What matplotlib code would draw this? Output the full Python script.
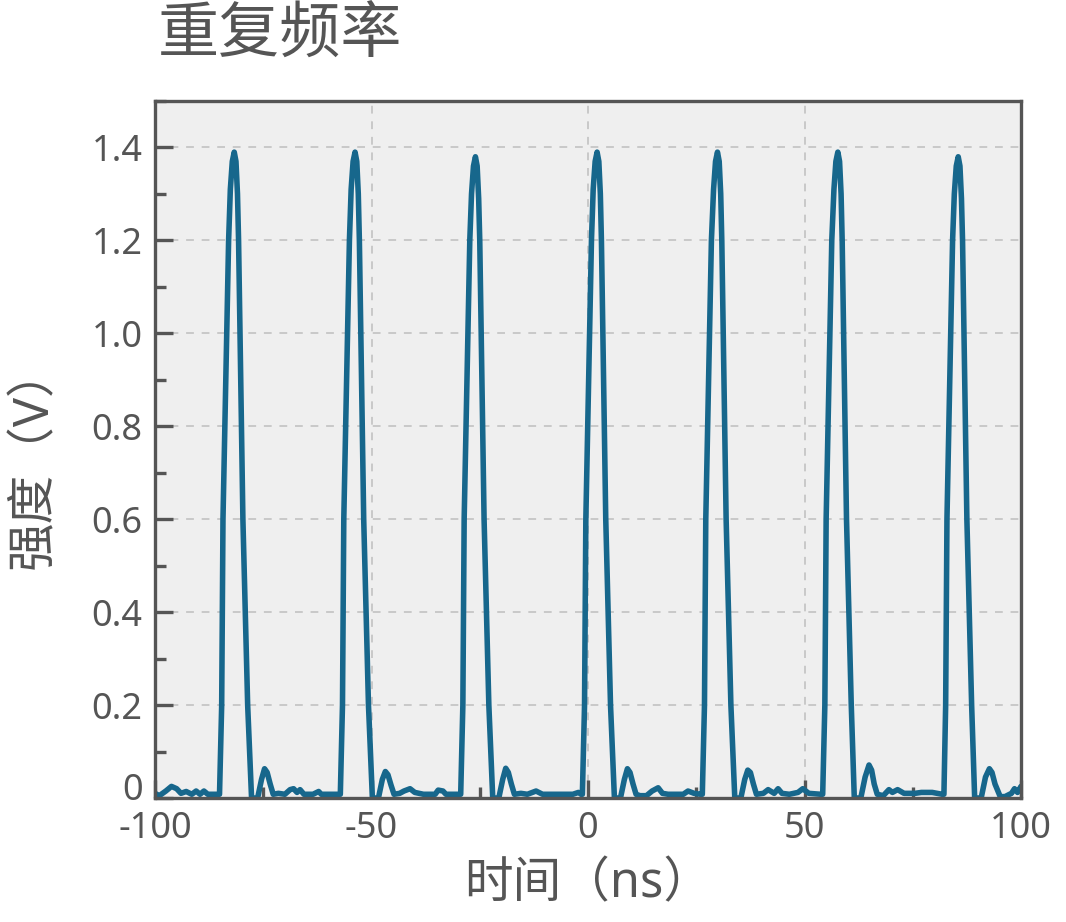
import matplotlib
matplotlib.use("Agg")
import matplotlib.pyplot as plt
from matplotlib.ticker import MultipleLocator, FuncFormatter
from matplotlib.transforms import ScaledTranslation

plt.rcParams['font.family'] = ['Noto Sans', 'Noto Sans CJK SC', 'DejaVu Sans']

# ---- data: oscilloscope trace (time in ns, voltage in V)
time_ns = [
    -100.0, -99.0, -97.5, -96.2, -95.0, -94.0, -92.8, -91.5, -90.5, -89.6, -88.7, -87.8, -85.5,
    # pulse 1
    -85.1, -84.6, -84.3, -83.0, -82.6, -82.15, -81.7, -81.3, -80.95, -80.7, -79.7, -78.6, -77.7, -76.3,
    -75.4, -74.7, -74.1, -73.4, -72.7,
    -71.5, -70.0, -68.8, -68.0, -67.2, -66.5, -65.6, -63.5, -62.2, -61.6, -57.6,
    # pulse 2
    -57.2, -56.7, -56.4, -55.1, -54.7, -54.25, -53.8, -53.4, -53.05, -52.8, -51.8, -50.7, -49.8, -48.4,
    -47.5, -46.8, -46.2, -45.5, -44.8,
    -43.5, -42.5, -41.1, -40.0, -38.0, -35.3, -34.6, -33.5, -32.8, -29.7,
    # pulse 3
    -29.4, -28.9, -28.6, -27.3, -26.9, -26.45, -26.0, -25.6, -25.25, -25.0, -24.0, -22.9, -22.0, -20.6,
    -19.7, -19.0, -18.4, -17.7, -17.0,
    -15.5, -14.0, -12.0, -10.5, -8.0, -6.0, -3.5, -2.2, -1.6,
    # pulse 4
    -1.3, -0.8, -0.5, 0.8, 1.2, 1.65, 2.1, 2.5, 2.85, 3.1, 4.1, 5.2, 6.1, 7.5,
    8.4, 9.1, 9.7, 10.4, 11.1,
    12.0, 13.5, 14.8, 16.2, 17.2, 18.5, 22.0, 23.1, 24.5, 26.0,
    # pulse 5
    26.4, 26.9, 27.2, 28.5, 29.0, 29.45, 29.9, 30.3, 30.65, 30.9, 31.9, 33.0, 33.9, 35.3,
    36.2, 36.9, 37.5, 38.2, 38.9,
    40.5, 41.6, 43.0, 43.9, 44.8, 46.5, 48.5, 49.6, 51.0, 53.8,
    # pulse 6
    54.2, 54.7, 55.0, 56.3, 56.8, 57.25, 57.7, 58.1, 58.45, 58.7, 59.7, 60.8, 61.5, 63.0,
    64.0, 64.9, 65.5, 66.1, 66.8,
    68.2, 69.5, 70.3, 71.5, 73.0, 75.5, 77.0, 79.5, 81.8,
    # pulse 7
    82.2, 82.6, 82.9, 84.2, 84.6, 85.05, 85.5, 85.9, 86.25, 86.5, 87.5, 88.6, 89.3, 90.8,
    91.8, 92.7, 93.3, 94.0, 95.2,
    96.3, 97.8, 98.5, 99.2, 100.0,
]
voltage_v = [
    0.010, 0.005, 0.015, 0.025, 0.020, 0.010, 0.014, 0.008, 0.015, 0.008, 0.015, 0.008, 0.008,
    # pulse 1
    0.008, 0.20, 0.60, 1.20, 1.31, 1.37, 1.39, 1.37, 1.30, 1.20, 0.60, 0.20, 0.000, 0.000,
    0.040, 0.063, 0.055, 0.030, 0.008,
    0.010, 0.008, 0.018, 0.020, 0.012, 0.018, 0.008, 0.008, 0.014, 0.008, 0.008,
    # pulse 2
    0.008, 0.20, 0.60, 1.20, 1.31, 1.37, 1.39, 1.37, 1.30, 1.20, 0.60, 0.20, 0.000, 0.000,
    0.040, 0.057, 0.050, 0.028, 0.008,
    0.010, 0.015, 0.020, 0.012, 0.008, 0.008, 0.017, 0.015, 0.008, 0.008,
    # pulse 3
    0.008, 0.20, 0.60, 1.20, 1.30, 1.36, 1.38, 1.36, 1.29, 1.20, 0.60, 0.20, 0.000, 0.000,
    0.040, 0.064, 0.055, 0.030, 0.008,
    0.010, 0.008, 0.015, 0.008, 0.008, 0.008, 0.008, 0.012, 0.008,
    # pulse 4
    0.008, 0.20, 0.60, 1.20, 1.31, 1.37, 1.39, 1.37, 1.30, 1.20, 0.60, 0.20, 0.000, 0.000,
    0.040, 0.063, 0.055, 0.030, 0.008,
    0.005, 0.005, 0.015, 0.022, 0.010, 0.008, 0.008, 0.015, 0.010, 0.008,
    # pulse 5
    0.008, 0.20, 0.60, 1.20, 1.31, 1.37, 1.39, 1.37, 1.30, 1.20, 0.60, 0.20, 0.000, 0.000,
    0.040, 0.060, 0.055, 0.030, 0.008,
    0.010, 0.018, 0.010, 0.020, 0.010, 0.008, 0.012, 0.020, 0.010, 0.008,
    # pulse 6
    0.008, 0.20, 0.60, 1.20, 1.31, 1.37, 1.39, 1.37, 1.30, 1.20, 0.60, 0.20, 0.000, 0.000,
    0.045, 0.071, 0.060, 0.030, 0.008,
    0.005, 0.018, 0.012, 0.018, 0.010, 0.010, 0.012, 0.012, 0.008,
    # pulse 7
    0.008, 0.20, 0.60, 1.20, 1.30, 1.36, 1.38, 1.36, 1.29, 1.20, 0.60, 0.20, 0.000, 0.000,
    0.045, 0.063, 0.055, 0.030, 0.003,
    0.003, 0.010, 0.020, 0.012, 0.025,
]

x_ticks = [-100, -50, 0, 50, 100]
x_tick_labels = ["-100", "-50", "0", "50", "100"]
y_ticks = [0.0, 0.2, 0.4, 0.6, 0.8, 1.0, 1.2, 1.4]

title_text = "重复频率"
x_label = "时间（ns）"
y_label = "强度（V）"

# ---- style
line_color = "#17678c"
text_color = "#555555"
spine_color = "#555555"
bg_color = "#efefef"
grid_color = "#c8c8c8"

fig = plt.figure(figsize=(10.66, 9.22), dpi=100)
ax = fig.add_axes([155 / 1066, 1 - 798 / 922, (1021 - 155) / 1066, (798 - 101) / 922])
ax.set_facecolor(bg_color)

ax.plot(time_ns, voltage_v, color=line_color, linewidth=4.0,
        solid_joinstyle="round", solid_capstyle="round", zorder=3)

ax.set_xlim(-100, 100)
ax.set_ylim(0, 1.5)

ax.set_xticks(x_ticks)
ax.set_xticklabels(x_tick_labels)
ax.xaxis.set_minor_locator(MultipleLocator(25))
ax.set_yticks(y_ticks)
ax.yaxis.set_major_formatter(FuncFormatter(lambda v, p: "0" if abs(v) < 1e-9 else f"{v:.1f}"))
ax.yaxis.set_minor_locator(MultipleLocator(0.1))

ax.tick_params(axis="both", which="major", direction="in", length=13, width=2.4,
               color=spine_color, labelsize=26, labelcolor=text_color, pad=9,
               top=False, right=False)
ax.tick_params(axis="both", which="minor", direction="in", length=8, width=2.4,
               color=spine_color, top=False, right=False)

ax.grid(True, which="major", color=grid_color, linestyle=(0, (4, 4)), linewidth=1.4, zorder=1)
ax.set_axisbelow(True)

for s in ax.spines.values():
    s.set_color(spine_color)
    s.set_linewidth(2.4)
    s.set_zorder(4)

fig.canvas.draw()
# the "0" label on the y axis sits a little above its tick in the reference
ylabs = ax.get_yticklabels()
ylabs[0].set_transform(ylabs[0].get_transform() + ScaledTranslation(0, 11 / 100, fig.dpi_scale_trans))

fig.text(158 / 1066, 1 - 37 / 922, title_text, fontsize=44, color=text_color,
         ha="left", va="center")
fig.text(588 / 1066, 1 - 884 / 922, x_label, fontsize=35, color=text_color,
         ha="center", va="center")
fig.text(34 / 1066, 1 - 457 / 922, y_label, fontsize=35, color=text_color,
         ha="center", va="center", rotation=90)

fig.savefig("out.png", dpi=100, facecolor="white")
